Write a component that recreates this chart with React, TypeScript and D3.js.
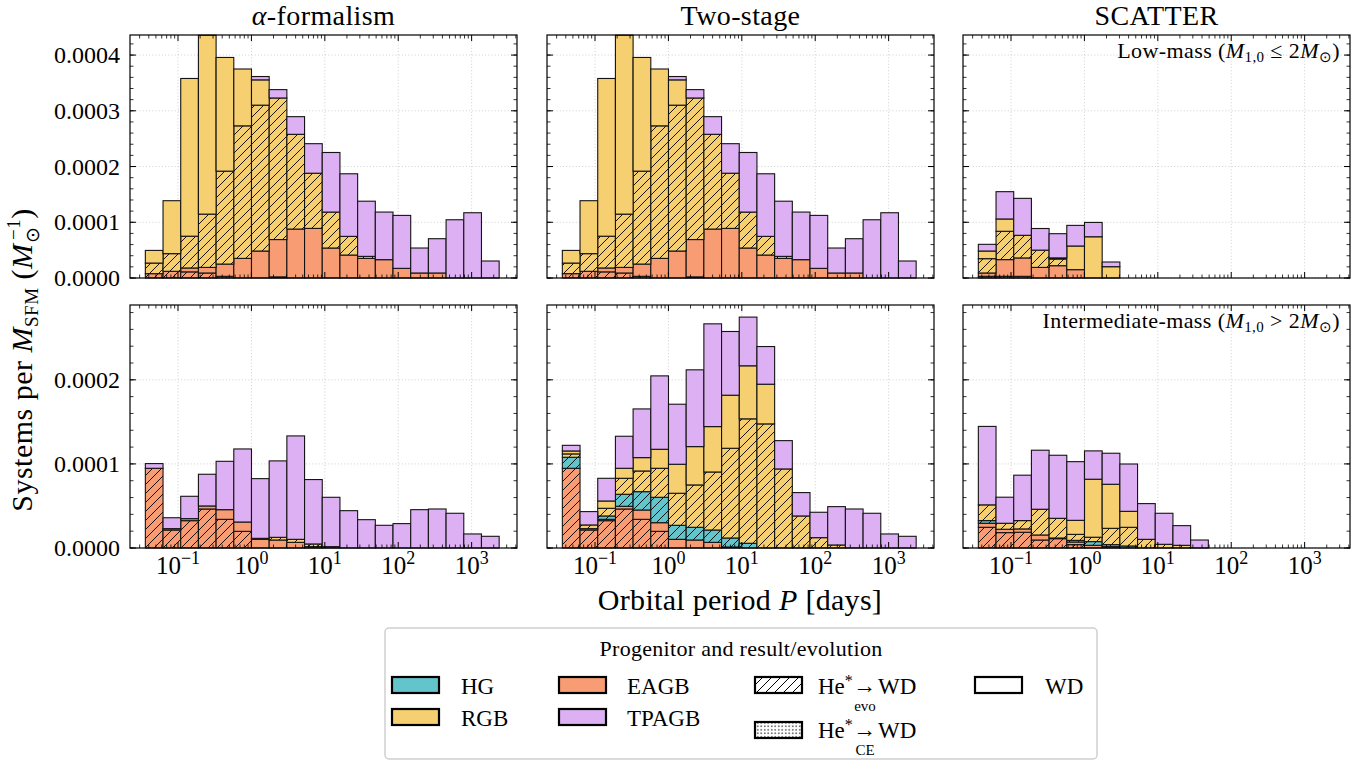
import React from 'react';
import * as d3 from 'd3';

// ---------- histogram binning (log10 P / days) ----------
const LOG_P_MIN = -1.445;
const LOG_P_MAX = 3.375;
const N_BINS = 20;
const UNIT = 1e-4; // values below are in units of 1e-4 systems per M_sun

// ---------- categories ----------
const columnTitles = ['α-formalism', 'Two-stage', 'SCATTER'];
const xTickValues = [0.1, 1, 10, 100, 1000];
const xTickExponents = ['−1', '0', '1', '2', '3'];
const yTicksTop = [0, 0.0001, 0.0002, 0.0003, 0.0004];
const yTicksBottom = [0, 0.0001, 0.0002];

// ---------- α-formalism, low mass (top-left) ----------
const alphaLow_EAGBevo = [0.078, 0.12, 0.11, 0.09, 0.03, 0, 0, 0.02, 0, 0, 0, 0, 0, 0, 0, 0, 0, 0, 0, 0];
const alphaLow_EAGBwd = [0, 0, 0.07, 0.10, 0.22, 0.352, 0.484, 0.67, 0.878, 0.89, 0.538, 0.412, 0.352, 0.329, 0.173, 0.09, 0.09, 0, 0, 0];
const alphaLow_RGBevo = [0.19, 0.317, 0.57, 0.956, 1.667, 2.378, 2.617, 2.54, 1.70, 0.99, 0.645, 0.335, 0.036, 0, 0, 0, 0, 0, 0, 0];
const alphaLow_RGBwd = [0.227, 0.95, 2.83, 3.21, 2.04, 1.02, 0.454, 0, 0, 0, 0, 0, 0, 0, 0, 0, 0, 0, 0, 0];
const alphaLow_TPAGB = [0, 0, 0, 0, 0, 0, 0.06, 0.15, 0.317, 0.53, 1.069, 1.123, 0.99, 0.854, 0.95, 0.448, 0.615, 1.045, 1.171, 0.305];

// ---------- Two-stage, low mass (top-middle) ----------
const twoLow_EAGBevo = [0.078, 0.12, 0.11, 0.09, 0.03, 0, 0, 0.02, 0, 0, 0, 0, 0, 0, 0, 0, 0, 0, 0, 0];
const twoLow_EAGBwd = [0, 0, 0.07, 0.10, 0.22, 0.352, 0.484, 0.67, 0.878, 0.89, 0.538, 0.412, 0.352, 0.329, 0.173, 0.09, 0.09, 0, 0, 0];
const twoLow_RGBevo = [0.19, 0.317, 0.57, 0.956, 1.667, 2.378, 2.617, 2.54, 1.70, 0.99, 0.645, 0.335, 0.036, 0, 0, 0, 0, 0, 0, 0];
const twoLow_RGBwd = [0.227, 0.95, 2.83, 3.21, 2.04, 1.02, 0.454, 0, 0, 0, 0, 0, 0, 0, 0, 0, 0, 0, 0, 0];
const twoLow_TPAGB = [0, 0, 0, 0, 0, 0, 0.06, 0.15, 0.317, 0.53, 1.069, 1.123, 0.99, 0.854, 0.95, 0.448, 0.615, 1.045, 1.171, 0.305];

// ---------- SCATTER, low mass (top-right) ----------
const scatLow_EAGBevo = [0.03, 0.03, 0.03, 0, 0, 0, 0, 0, 0, 0, 0, 0, 0, 0, 0, 0, 0, 0, 0, 0];
const scatLow_EAGBwd = [0.06, 0.30, 0.33, 0.19, 0.221, 0.15, 0, 0, 0, 0, 0, 0, 0, 0, 0, 0, 0, 0, 0, 0];
const scatLow_RGBevo = [0.257, 0.508, 0.406, 0.31, 0.12, 0, 0, 0, 0, 0, 0, 0, 0, 0, 0, 0, 0, 0, 0, 0];
const scatLow_RGBwd = [0.137, 0.221, 0, 0, 0.02, 0.424, 0.74, 0.203, 0, 0, 0, 0, 0, 0, 0, 0, 0, 0, 0, 0];
const scatLow_TPAGB = [0.12, 0.49, 0.663, 0.388, 0.434, 0.37, 0.257, 0.084, 0, 0, 0, 0, 0, 0, 0, 0, 0, 0, 0, 0];

// ---------- α-formalism, intermediate mass (bottom-left) ----------
const alphaInt_EAGBevo = [0.948, 0.214, 0.325, 0.464, 0.341, 0.198, 0, 0, 0, 0, 0, 0, 0, 0, 0, 0, 0, 0, 0, 0];
const alphaInt_EAGBwd = [0, 0.016, 0.024, 0.036, 0.115, 0.111, 0.103, 0.095, 0.067, 0.016, 0, 0, 0, 0, 0, 0, 0, 0, 0, 0];
const alphaInt_RGBevo = [0, 0, 0, 0, 0, 0, 0.012, 0.032, 0.036, 0.032, 0.016, 0, 0, 0, 0, 0, 0, 0, 0, 0];
const alphaInt_TPAGB = [0.056, 0.13, 0.266, 0.377, 0.575, 0.869, 0.71, 0.909, 1.23, 0.766, 0.587, 0.444, 0.337, 0.27, 0.29, 0.456, 0.464, 0.413, 0.167, 0.139];

// ---------- Two-stage, intermediate mass (bottom-middle) ----------
const twoInt_EAGBevo = [0.948, 0.214, 0.325, 0.464, 0.341, 0.198, 0, 0, 0, 0, 0, 0, 0, 0, 0, 0, 0, 0, 0, 0];
const twoInt_EAGBwd = [0, 0.016, 0.016, 0.032, 0.111, 0.103, 0.103, 0.095, 0.067, 0.012, 0, 0, 0, 0, 0, 0, 0, 0, 0, 0];
const twoInt_HGevo = [0.131, 0, 0.04, 0.143, 0.218, 0.302, 0.167, 0.151, 0.147, 0.107, 0.056, 0, 0, 0, 0, 0, 0, 0, 0, 0];
const twoInt_RGBevo = [0.04, 0.044, 0.091, 0.19, 0.246, 0.345, 0.381, 0.504, 0.69, 1.067, 1.48, 1.476, 0.94, 0.381, 0.123, 0.036, 0, 0, 0, 0];
const twoInt_RGBwd = [0.035, 0, 0.087, 0.119, 0.159, 0.226, 0.345, 0.456, 0.54, 0.631, 0.631, 0.472, 0, 0, 0, 0, 0, 0, 0, 0];
const twoInt_TPAGB = [0.067, 0.159, 0.27, 0.381, 0.579, 0.873, 0.714, 0.913, 1.222, 0.758, 0.579, 0.448, 0.337, 0.278, 0.302, 0.456, 0.464, 0.413, 0.167, 0.139];

// ---------- SCATTER, intermediate mass (bottom-right) ----------
const scatInt_EAGBevo = [0.246, 0.183, 0.187, 0.095, 0.111, 0.04, 0, 0, 0, 0, 0, 0, 0, 0, 0, 0, 0, 0, 0, 0];
const scatInt_EAGBwd = [0.048, 0.04, 0.04, 0.06, 0.008, 0.031, 0.032, 0.016, 0, 0, 0, 0, 0, 0, 0, 0, 0, 0, 0, 0];
const scatInt_HGevo = [0.032, 0, 0, 0, 0, 0.02, 0.044, 0.024, 0.024, 0, 0, 0, 0, 0, 0, 0, 0, 0, 0, 0];
const scatInt_RGBevo = [0.187, 0.071, 0.099, 0.306, 0.234, 0.071, 0.052, 0.194, 0.222, 0.103, 0.044, 0.032, 0, 0, 0, 0, 0, 0, 0, 0];
const scatInt_RGBwd = [0, 0, 0, 0, 0, 0.167, 0.69, 0.524, 0.19, 0, 0, 0, 0, 0, 0, 0, 0, 0, 0, 0];
const scatInt_TPAGB = [0.933, 0.31, 0.54, 0.702, 0.75, 0.698, 0.337, 0.369, 0.563, 0.425, 0.369, 0.234, 0.095, 0, 0, 0, 0, 0, 0, 0];

// ---------- styling ----------
const COLORS: Record<string, string> = {
  HG: '#63c4cb',
  RGB: '#f5cf70',
  EAGB: '#f89c74',
  TPAGB: '#dcb0f2',
};
const LAYERS = [
  { key: 'EAGBevo', prog: 'EAGB', hatch: true },
  { key: 'EAGBwd', prog: 'EAGB', hatch: false },
  { key: 'HGevo', prog: 'HG', hatch: true },
  { key: 'HGwd', prog: 'HG', hatch: false },
  { key: 'RGBevo', prog: 'RGB', hatch: true },
  { key: 'RGBwd', prog: 'RGB', hatch: false },
  { key: 'TPAGBwd', prog: 'TPAGB', hatch: false },
];

const PANELS: { row: number; col: number; layers: Record<string, number[]> }[] = [
  { row: 0, col: 0, layers: { EAGBevo: alphaLow_EAGBevo, EAGBwd: alphaLow_EAGBwd, RGBevo: alphaLow_RGBevo, RGBwd: alphaLow_RGBwd, TPAGBwd: alphaLow_TPAGB } },
  { row: 0, col: 1, layers: { EAGBevo: twoLow_EAGBevo, EAGBwd: twoLow_EAGBwd, RGBevo: twoLow_RGBevo, RGBwd: twoLow_RGBwd, TPAGBwd: twoLow_TPAGB } },
  { row: 0, col: 2, layers: { EAGBevo: scatLow_EAGBevo, EAGBwd: scatLow_EAGBwd, RGBevo: scatLow_RGBevo, RGBwd: scatLow_RGBwd, TPAGBwd: scatLow_TPAGB } },
  { row: 1, col: 0, layers: { EAGBevo: alphaInt_EAGBevo, EAGBwd: alphaInt_EAGBwd, RGBevo: alphaInt_RGBevo, TPAGBwd: alphaInt_TPAGB } },
  { row: 1, col: 1, layers: { EAGBevo: twoInt_EAGBevo, EAGBwd: twoInt_EAGBwd, HGevo: twoInt_HGevo, RGBevo: twoInt_RGBevo, RGBwd: twoInt_RGBwd, TPAGBwd: twoInt_TPAGB } },
  { row: 1, col: 2, layers: { EAGBevo: scatInt_EAGBevo, EAGBwd: scatInt_EAGBwd, HGevo: scatInt_HGevo, RGBevo: scatInt_RGBevo, RGBwd: scatInt_RGBwd, TPAGBwd: scatInt_TPAGB } },
];

// layout
const COL_X = [130, 547, 963];
const PANEL_W = 387;
const ROW_Y = [35, 305];
const PANEL_H = 243;
const LOG_X_DOMAIN = [-1.654, 3.618];
const Y_MAX = [0.000436, 0.000289];
const FONT = "'Liberation Serif', 'Times New Roman', serif";

const binEdges = d3.range(N_BINS + 1).map((i) => Math.pow(10, LOG_P_MIN + (i * (LOG_P_MAX - LOG_P_MIN)) / N_BINS));

function Panel({ cfg }: { cfg: (typeof PANELS)[number] }) {
  const x0 = COL_X[cfg.col];
  const y0 = ROW_Y[cfg.row];
  const xs = d3.scaleLog().domain(LOG_X_DOMAIN.map((v) => Math.pow(10, v))).range([x0, x0 + PANEL_W]);
  const ys = d3.scaleLinear().domain([0, Y_MAX[cfg.row]]).range([y0 + PANEL_H, y0]);
  const rows = d3.range(N_BINS).map((i) => {
    const o: Record<string, number> = {};
    LAYERS.forEach((l) => (o[l.key] = ((cfg.layers[l.key] || [])[i] || 0) * UNIT));
    return o;
  });
  const series = d3.stack<Record<string, number>>().keys(LAYERS.map((l) => l.key))(rows as any);
  const yTicks = cfg.row === 0 ? yTicksTop : yTicksBottom;
  const yMinor = d3.range(0, Y_MAX[cfg.row] + 1e-12, 0.00002);
  const dMin = xs.domain()[0];
  const dMax = xs.domain()[1];
  const xMinor: number[] = [];
  for (let e = -2; e <= 3; e++) for (let k = 2; k <= 9; k++) {
    const v = k * Math.pow(10, e);
    if (v > dMin && v < dMax) xMinor.push(v);
  }
  const yb = y0 + PANEL_H;
  const xr = x0 + PANEL_W;
  const gridStyle = { stroke: '#c4c4c4', strokeWidth: 0.8, strokeDasharray: '1 2.2' };
  return (
    <g>
      {xTickValues.map((v) => (
        <line key={'gx' + v} x1={xs(v)} x2={xs(v)} y1={y0} y2={yb} {...gridStyle} />
      ))}
      {yTicks.map((v) => (
        <line key={'gy' + v} x1={x0} x2={xr} y1={ys(v)} y2={ys(v)} {...gridStyle} />
      ))}
      {series.map((s, li) => {
        const layer = LAYERS[li];
        return s.map((d, i) => {
          if (d[1] - d[0] <= 0) return null;
          const bx = xs(binEdges[i]);
          const bw = xs(binEdges[i + 1]) - bx;
          const by = ys(d[1]);
          const bh = ys(d[0]) - by;
          return (
            <g key={layer.key + i}>
              <rect x={bx} y={by} width={bw} height={bh} fill={COLORS[layer.prog]} />
              {layer.hatch && <rect x={bx} y={by} width={bw} height={bh} fill="url(#hatch)" />}
              <rect x={bx} y={by} width={bw} height={bh} fill="none" stroke="#141414" strokeWidth={1.1} />
            </g>
          );
        });
      })}
      {/* ticks */}
      {xTickValues.map((v) => (
        <g key={'xt' + v}>
          <line x1={xs(v)} x2={xs(v)} y1={yb} y2={yb - 6} stroke="#000" strokeWidth={1} />
          <line x1={xs(v)} x2={xs(v)} y1={y0} y2={y0 + 6} stroke="#000" strokeWidth={1} />
        </g>
      ))}
      {xMinor.map((v) => (
        <g key={'xm' + v}>
          <line x1={xs(v)} x2={xs(v)} y1={yb} y2={yb - 3.5} stroke="#000" strokeWidth={0.8} />
          <line x1={xs(v)} x2={xs(v)} y1={y0} y2={y0 + 3.5} stroke="#000" strokeWidth={0.8} />
        </g>
      ))}
      {yTicks.map((v) => (
        <g key={'yt' + v}>
          <line x1={x0} x2={x0 + 6} y1={ys(v)} y2={ys(v)} stroke="#000" strokeWidth={1} />
          <line x1={xr} x2={xr - 6} y1={ys(v)} y2={ys(v)} stroke="#000" strokeWidth={1} />
        </g>
      ))}
      {yMinor.map((v, i) => (
        <g key={'ym' + i}>
          <line x1={x0} x2={x0 + 3.5} y1={ys(v)} y2={ys(v)} stroke="#000" strokeWidth={0.8} />
          <line x1={xr} x2={xr - 3.5} y1={ys(v)} y2={ys(v)} stroke="#000" strokeWidth={0.8} />
        </g>
      ))}
      <rect x={x0} y={y0} width={PANEL_W} height={PANEL_H} fill="none" stroke="#000" strokeWidth={1.2} />
      {/* tick labels */}
      {cfg.col === 0 &&
        yTicks.map((v) => (
          <text key={'yl' + v} x={x0 - 10} y={ys(v) + 8} textAnchor="end" fontSize={24} fontFamily={FONT}>
            {v.toFixed(4)}
          </text>
        ))}
      {cfg.row === 1 &&
        xTickValues.map((v, i) => (
          <text key={'xl' + v} x={xs(v)} y={yb + 26} textAnchor="middle" fontSize={25} fontFamily={FONT}>
            10<tspan fontSize={18} dy={-10}>{xTickExponents[i]}</tspan>
          </text>
        ))}
      {cfg.row === 0 && (
        <text x={x0 + PANEL_W / 2} y={25} textAnchor="middle" fontSize={28} fontFamily={FONT} letterSpacing={0.4}>
          {cfg.col === 0 ? (
            <>
              <tspan fontStyle="italic">α</tspan>-formalism
            </>
          ) : (
            columnTitles[cfg.col]
          )}
        </text>
      )}
    </g>
  );
}

function LegendPatch({ x, y, fill, pattern }: { x: number; y: number; fill: string; pattern?: string }) {
  return (
    <g>
      <rect x={x} y={y} width={47} height={16} fill={fill} />
      {pattern && <rect x={x} y={y} width={47} height={16} fill={`url(#${pattern})`} />}
      <rect x={x} y={y} width={47} height={16} fill="none" stroke="#000" strokeWidth={2.2} />
    </g>
  );
}

function HeArrow({ x, y, sub }: { x: number; y: number; sub: string }) {
  return (
    <g fontFamily={FONT}>
      <text x={x} y={y} fontSize={23}>
        He<tspan fontSize={16} dy={-8}>*</tspan>
      </text>
      <text x={x + 35} y={y - 1} fontSize={23}>→</text>
      <text x={x + 60} y={y} fontSize={23}>WD</text>
      <text x={x + 47} y={y + 17} fontSize={15} textAnchor="middle">{sub}</text>
    </g>
  );
}

function Legend() {
  const L = 385, T = 628;
  return (
    <g fontFamily={FONT}>
      <rect x={L} y={T} width={712} height={131} rx={4} fill="#fff" stroke="#cfcfcf" strokeWidth={1.5} />
      <text x={L + 356} y={T + 28} textAnchor="middle" fontSize={22} letterSpacing={0.3}>Progenitor and result/evolution</text>
      <LegendPatch x={392} y={677} fill={COLORS.HG} />
      <text x={461} y={694} fontSize={23}>HG</text>
      <LegendPatch x={392} y={709} fill={COLORS.RGB} />
      <text x={461} y={726} fontSize={23}>RGB</text>
      <LegendPatch x={559} y={677} fill={COLORS.EAGB} />
      <text x={627} y={694} fontSize={23}>EAGB</text>
      <LegendPatch x={559} y={709} fill={COLORS.TPAGB} />
      <text x={627} y={726} fontSize={23}>TPAGB</text>
      <LegendPatch x={755} y={677} fill="#fff" pattern="hatchL" />
      <HeArrow x={818} y={694} sub="evo" />
      <LegendPatch x={755} y={722} fill="#fff" pattern="dots" />
      <HeArrow x={818} y={738} sub="CE" />
      <LegendPatch x={975} y={677} fill="#fff" />
      <text x={1045} y={694} fontSize={23}>WD</text>
    </g>
  );
}

export default function App() {
  return (
    <svg width={1372} height={762} style={{ position: 'absolute', left: 0, top: 0, background: '#fff' }}>
      <defs>
        <pattern id="hatch" patternUnits="userSpaceOnUse" width={9} height={9}>
          <path d="M-1,1 L1,-1 M0,9 L9,0 M8,10 L10,8" stroke="#000" strokeWidth={0.9} />
        </pattern>
        <pattern id="hatchL" patternUnits="userSpaceOnUse" width={9} height={9}>
          <path d="M-1,1 L1,-1 M0,9 L9,0 M8,10 L10,8" stroke="#000" strokeWidth={1} />
        </pattern>
        <pattern id="dots" patternUnits="userSpaceOnUse" width={3.5} height={3.5}>
          <circle cx={1.75} cy={1.75} r={0.75} fill="#000" />
        </pattern>
      </defs>
      <rect width={1372} height={762} fill="#fff" />
      {PANELS.map((p, i) => (
        <Panel key={i} cfg={p} />
      ))}
      {/* annotations */}
      <text x={1340} y={58} textAnchor="end" fontSize={22} fontFamily={FONT} letterSpacing={0.4}>
        Low-mass (<tspan fontStyle="italic">M</tspan>
        <tspan fontSize={15} dy={4}>1,0</tspan>
        <tspan dy={-4}> ≤ 2</tspan>
        <tspan fontStyle="italic">M</tspan>
        <tspan fontSize={15} dy={4}>⊙</tspan>
        <tspan dy={-4}>)</tspan>
      </text>
      <text x={1340} y={328} textAnchor="end" fontSize={22} fontFamily={FONT} letterSpacing={0.4}>
        Intermediate-mass (<tspan fontStyle="italic">M</tspan>
        <tspan fontSize={15} dy={4}>1,0</tspan>
        <tspan dy={-4}> &gt; 2</tspan>
        <tspan fontStyle="italic">M</tspan>
        <tspan fontSize={15} dy={4}>⊙</tspan>
        <tspan dy={-4}>)</tspan>
      </text>
      {/* axis labels */}
      <text x={740} y={610} textAnchor="middle" fontSize={30} fontFamily={FONT} letterSpacing={0.3}>
        Orbital period <tspan fontStyle="italic">P</tspan> [days]
      </text>
      <text transform="translate(32,360) rotate(-90)" textAnchor="middle" fontSize={30} fontFamily={FONT} letterSpacing={0.5}>
        Systems per <tspan fontStyle="italic">M</tspan>
        <tspan fontSize={19} dy={6}>SFM</tspan>
        <tspan dy={-6}> (</tspan>
        <tspan fontStyle="italic">M</tspan>
        <tspan fontSize={19} dy={7}>⊙</tspan>
        <tspan fontSize={19} dx={-13} dy={-19}>−1</tspan>
        <tspan dy={12}>)</tspan>
      </text>
      <Legend />
    </svg>
  );
}
